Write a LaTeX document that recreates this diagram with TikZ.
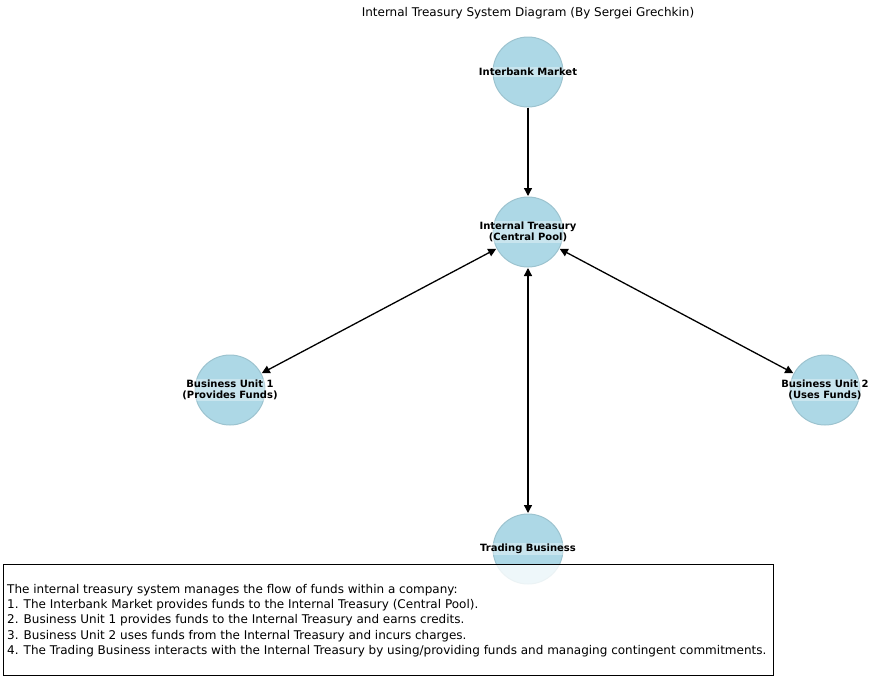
\documentclass[tikz,border=0pt]{standalone}
\usepackage{fontspec}
\setmainfont{DejaVu Sans}
\usetikzlibrary{arrows.meta}
\definecolor{nodefill}{HTML}{ADD8E6}
\definecolor{nodeedge}{HTML}{9CC3CF}
\tikzset{
  unit/.style={circle, minimum size=70pt, inner sep=0pt, fill=nodefill, draw=nodeedge, line width=1pt},
  lbl/.style={font=\fontsize{10}{11.5}\selectfont\bfseries, align=center, fill=white, fill opacity=0.35, text opacity=1, inner sep=1pt},
  link/.style={line width=1.3pt, {Triangle[length=8pt,width=8pt]}-{Triangle[length=8pt,width=8pt]}, shorten <=0.5pt, shorten >=0.5pt},
  onelink/.style={line width=1.3pt, -{Triangle[length=8pt,width=8pt]}, shorten >=0.5pt}
}
\begin{document}
\begin{tikzpicture}[x=1pt,y=-1pt]
\useasboundingbox (0,0) rectangle (895,678);
\node[font=\fontsize{12}{14}\selectfont] (title) at (528,13) {Internal Treasury System Diagram (By Sergei Grechkin)};

\node[unit] (ib) at (528,72) {};
\node[unit] (it) at (528,232) {};
\node[unit] (bu1) at (230,390) {};
\node[unit] (bu2) at (825,390) {};
\node[unit] (tb) at (528,549) {};

\draw[onelink] (ib) -- (it);
\draw[link] (it) -- (bu1);
\draw[link] (it) -- (bu2);
\draw[link] (it) -- (tb);

\node[lbl] (ibl) at (ib.center) {Interbank Market};
\node[lbl] (itl) at (it.center) {Internal Treasury\\(Central Pool)};
\node[lbl] (bu1l) at (bu1.center) {Business Unit 1\\(Provides Funds)};
\node[lbl] (bu2l) at (bu2.center) {Business Unit 2\\(Uses Funds)};
\node[lbl] (tbl) at (tb.center) {Trading Business};

\draw[line width=0.8pt, fill=white, fill opacity=0.8] (3,564) rectangle (773,675);
\node[anchor=north west, inner sep=0pt, align=left, font=\fontsize{12}{15.25}\selectfont] (desc) at (7,584) {The internal treasury system manages the flow of funds within a company:\\
1. The Interbank Market provides funds to the Internal Treasury (Central Pool).\\
2. Business Unit 1 provides funds to the Internal Treasury and earns credits.\\
3. Business Unit 2 uses funds from the Internal Treasury and incurs charges.\\
4. The Trading Business interacts with the Internal Treasury by using/providing funds and managing contingent commitments.};
\end{tikzpicture}
\end{document}
